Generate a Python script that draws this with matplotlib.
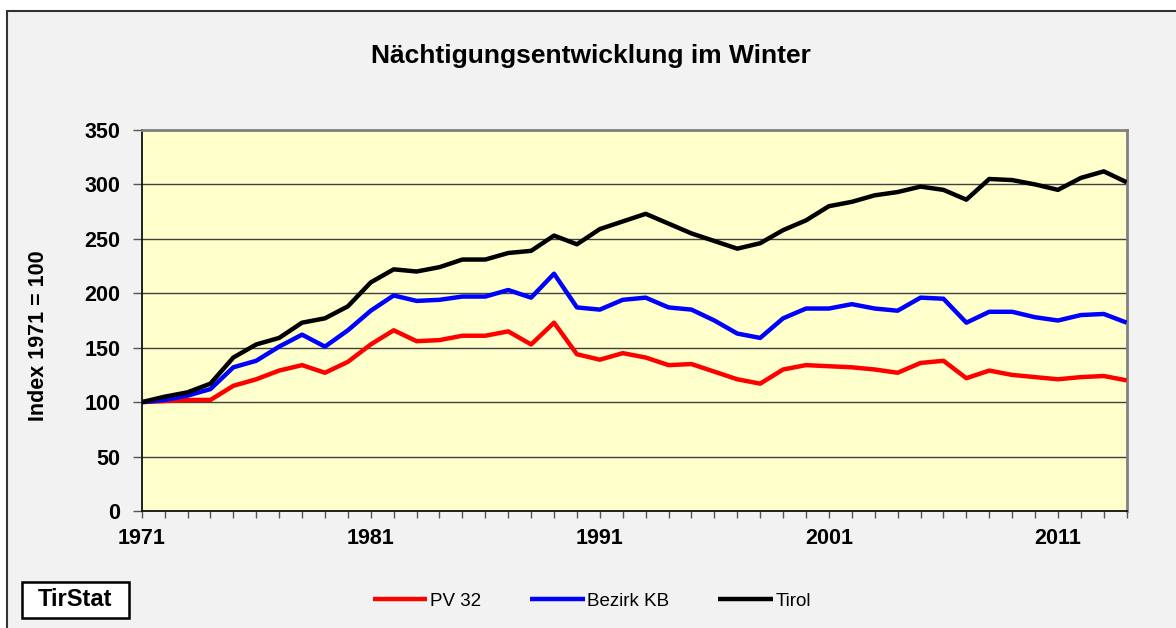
import matplotlib

matplotlib.use("Agg")
import matplotlib.pyplot as plt
from matplotlib.patches import Rectangle

plt.rcParams["font.family"] = ["Liberation Sans", "DejaVu Sans"]

# Winter overnight stays, index 1971 = 100
years = list(range(1971, 2015))
pv32 = [
    100, 101, 102, 102, 115, 121, 129, 134, 127, 137,
    153, 166, 156, 157, 161, 161, 165, 153, 173, 144,
    139, 145, 141, 134, 135, 128, 121, 117, 130, 134,
    133, 132, 130, 127, 136, 138, 122, 129, 125, 123,
    121, 123, 124, 120,
]
bezirk_kb = [
    100, 102, 106, 112, 132, 138, 151, 162, 151, 166,
    184, 198, 193, 194, 197, 197, 203, 196, 218, 187,
    185, 194, 196, 187, 185, 175, 163, 159, 177, 186,
    186, 190, 186, 184, 196, 195, 173, 183, 183, 178,
    175, 180, 181, 173,
]
tirol = [
    100, 105, 109, 117, 141, 153, 159, 173, 177, 188,
    210, 222, 220, 224, 231, 231, 237, 239, 253, 245,
    259, 266, 273, 264, 255, 248, 241, 246, 258, 267,
    280, 284, 290, 293, 298, 295, 286, 305, 304, 300,
    295, 306, 312, 302,
]
series_names = ["PV 32", "Bezirk KB", "Tirol"]
label_years = [1971, 1981, 1991, 2001, 2011]
y_ticks = [0, 50, 100, 150, 200, 250, 300, 350]

fig = plt.figure(figsize=(11.76, 6.28), dpi=100, facecolor="white")

# grey chart frame, cut off at the right and bottom like the source image
fig.patches.append(
    Rectangle((7 / 1176, -0.05), 1.1, 1.05 - 11 / 628, transform=fig.transFigure,
              facecolor="#f2f2f2", edgecolor="#333333", linewidth=1.5, zorder=-10)
)

ax = fig.add_axes([141.7 / 1176, 1 - 511 / 628, 985 / 1176, 381 / 628])
ax.set_facecolor("#ffffcc")

for values, color, name in zip([pv32, bezirk_kb, tirol], ["#ff0000", "#0000ff", "#000000"], series_names):
    ax.plot(years, values, color=color, linewidth=3.2, label=name, solid_capstyle="butt", zorder=3)

ax.set_xlim(years[0], years[-1])
ax.set_ylim(0, 350)
ax.set_yticks(y_ticks)
ax.set_xticks(years, minor=True)
ax.set_xticks(label_years)
ax.set_xticklabels([str(y) for y in label_years])
ax.yaxis.grid(True, color="#404040", linewidth=1.0, zorder=1)
ax.set_axisbelow(True)

ax.tick_params(axis="y", direction="out", length=6.5, width=1, color="#555555",
               labelsize=15.5, pad=9)
ax.tick_params(axis="x", which="both", direction="out", length=5, width=1, color="#555555",
               labelsize=15.5, pad=7)
for lbl in ax.get_xticklabels() + ax.get_yticklabels():
    lbl.set_fontweight("bold")

for side in ["top", "right"]:
    ax.spines[side].set_color("#808080")
    ax.spines[side].set_linewidth(2)
for side in ["left", "bottom"]:
    ax.spines[side].set_color("#111111")
    ax.spines[side].set_linewidth(1.3)

fig.text(591 / 1176, 1 - 62.7 / 628, "Nächtigungsentwicklung im Winter",
         ha="center", va="baseline", fontsize=19, fontweight="bold")
fig.text(39 / 1176, 1 - 335.8 / 628, "Index 1971 = 100", rotation=90,
         ha="center", va="center", fontsize=15.5, fontweight="bold")

fig.legend(loc="center", bbox_to_anchor=(592 / 1176, 1 - 601 / 628), ncol=3,
           frameon=False, fontsize=13.5, handlelength=2.9, handletextpad=0.15,
           columnspacing=2.6, borderaxespad=0)

fig.text(75.5 / 1176, 1 - 600 / 628, "TirStat", ha="center", va="center",
         fontsize=17, fontweight="bold")
fig.patches.append(
    Rectangle((22.3 / 1176, 1 - 618.3 / 628), 106.4 / 1176, 36.6 / 628,
              transform=fig.transFigure, facecolor="white", edgecolor="black",
              linewidth=1.8, zorder=-5)
)

fig.savefig("out.png", dpi=100, facecolor=fig.get_facecolor())
